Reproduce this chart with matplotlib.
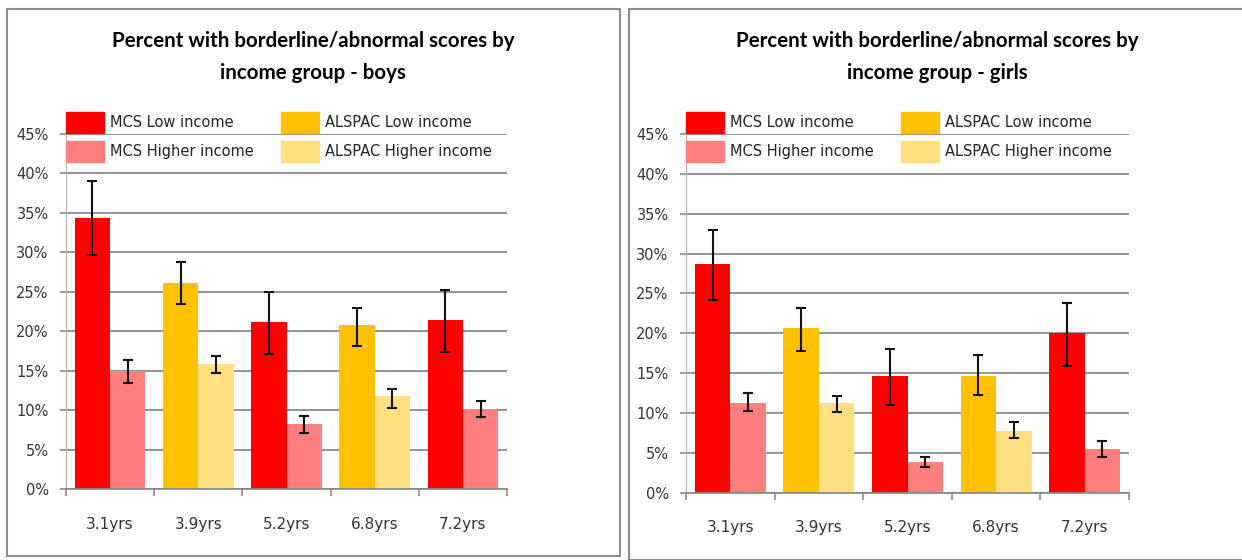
import matplotlib
matplotlib.use('Agg')
import matplotlib.pyplot as plt
from matplotlib.patches import Patch, Rectangle
from matplotlib.ticker import FuncFormatter
import numpy as np

# --- data (percent) ---
ages = ['3.1yrs', '3.9yrs', '5.2yrs', '6.8yrs', '7.2yrs']
study = ['MCS', 'ALSPAC', 'MCS', 'ALSPAC', 'MCS']

boys_low = [34.4, 26.1, 21.2, 20.8, 21.4]
boys_low_lo = [29.7, 23.5, 17.1, 18.1, 17.4]
boys_low_hi = [39.0, 28.8, 25.0, 22.9, 25.2]
boys_high = [15.0, 15.9, 8.2, 11.8, 10.2]
boys_high_lo = [13.5, 14.7, 7.1, 10.3, 9.1]
boys_high_hi = [16.4, 16.8, 9.2, 12.7, 11.2]

girls_low = [28.7, 20.6, 14.6, 14.7, 20.0]
girls_low_lo = [24.2, 17.8, 11.0, 12.3, 15.9]
girls_low_hi = [33.0, 23.2, 18.0, 17.3, 23.8]
girls_high = [11.3, 11.2, 3.9, 7.7, 5.5]
girls_high_lo = [10.3, 10.1, 3.2, 6.9, 4.5]
girls_high_hi = [12.5, 12.1, 4.5, 8.9, 6.5]

titles = ['Percent with borderline/abnormal scores by\nincome group - boys',
          'Percent with borderline/abnormal scores by\nincome group - girls']
legend_labels = ['MCS Low income', 'MCS Higher income',
                 'ALSPAC Low income', 'ALSPAC Higher income']

low_colors = {'MCS': '#ff0000', 'ALSPAC': '#ffc000'}
high_colors = {'MCS': '#ff7f7f', 'ALSPAC': '#ffdf80'}
grid_col = '#8a8a8a'
text_col = '#333333'

fig = plt.figure(figsize=(12.42, 5.6), dpi=100)


def panel(ax, low, low_lo, low_hi, high, high_lo, high_hi, title, box, title_x):
    x = np.arange(len(ages))
    w = 0.4
    ax.bar(x - w / 2, low, w, color=[low_colors[s] for s in study], zorder=2)
    ax.bar(x + w / 2, high, w, color=[high_colors[s] for s in study], zorder=2)
    low = np.array(low)
    high = np.array(high)
    ax.errorbar(x - w / 2, low, yerr=[low - np.array(low_lo), np.array(low_hi) - low],
                fmt='none', ecolor='#111111', elinewidth=1.5, capsize=3.6, capthick=1.5, zorder=3)
    ax.errorbar(x + w / 2, high, yerr=[high - np.array(high_lo), np.array(high_hi) - high],
                fmt='none', ecolor='#111111', elinewidth=1.5, capsize=3.6, capthick=1.5, zorder=3)

    ax.set_xlim(-0.5, len(ages) - 0.5)
    ax.set_ylim(0, 45)
    ax.set_yticks(np.arange(0, 46, 5))
    ax.yaxis.set_major_formatter(FuncFormatter(lambda v, p: '%d%%' % v))
    ax.set_xticks(x)
    ax.set_xticklabels(ages)
    ax.set_xticks(np.arange(-0.5, len(ages), 1), minor=True)
    ax.tick_params(axis='x', which='major', length=0, pad=20, labelsize=11, labelcolor=text_col)
    ax.tick_params(axis='x', which='minor', length=5, color=grid_col, width=1.2)
    ax.tick_params(axis='y', length=4.5, pad=8, color=grid_col, width=1.2,
                   labelsize=10.5, labelcolor=text_col)
    ax.grid(axis='y', color=grid_col, lw=1.3)
    ax.set_axisbelow(True)
    for s in ['top', 'right']:
        ax.spines[s].set_visible(False)
    ax.spines['left'].set_color('#b0b0b0')
    ax.spines['bottom'].set_color(grid_col)
    ax.spines['bottom'].set_linewidth(1.3)

    handles = [Patch(color=low_colors['MCS']), Patch(color=high_colors['MCS']),
               Patch(color=low_colors['ALSPAC']), Patch(color=high_colors['ALSPAC'])]
    ax.legend(handles, legend_labels, ncol=2, loc='upper left', bbox_to_anchor=(0.0, 1.062),
              frameon=False, borderpad=0, borderaxespad=0, fontsize=10.5,
              handlelength=2.6, handleheight=1.85, labelspacing=0.55,
              handletextpad=0.4, columnspacing=1.9, labelcolor='#222222')

    fig.add_artist(Rectangle((box[0], box[1]), box[2], box[3], transform=fig.transFigure,
                             fill=False, edgecolor='#8c8c8c', lw=1.5))
    fig.text(title_x, 0.898, title, ha='center', va='center', fontsize=14.8,
             fontweight='bold', family=['Lato', 'DejaVu Sans'], linespacing=1.75)


ax1 = fig.add_axes([66 / 1242, 71 / 560, 441 / 1242, 355 / 560])
panel(ax1, boys_low, boys_low_lo, boys_low_hi, boys_high, boys_high_lo, boys_high_hi,
      titles[0], (7 / 1242, 4 / 560, 613 / 1242, 547 / 560), 313 / 1242)

ax2 = fig.add_axes([686 / 1242, 67.3 / 560, 443 / 1242, 358.7 / 560])
panel(ax2, girls_low, girls_low_lo, girls_low_hi, girls_high, girls_high_lo, girls_high_hi,
      titles[1], (629 / 1242, 0 / 560, 620 / 1242, 551 / 560), 937 / 1242)

fig.savefig('out.png', dpi=100)
